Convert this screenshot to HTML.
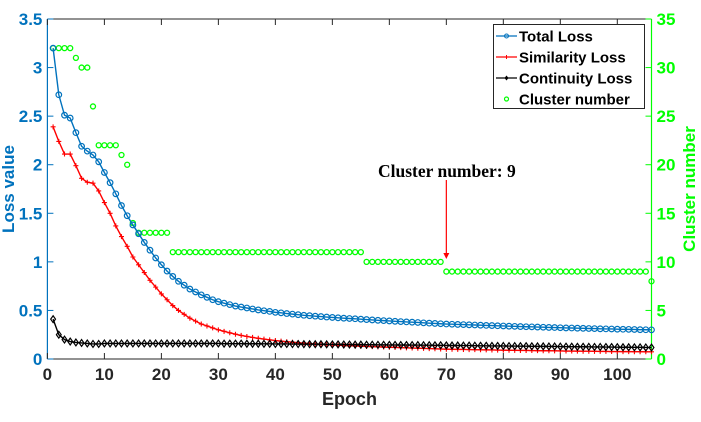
<!DOCTYPE html>
<html><head><meta charset="utf-8"><style>
body{margin:0;background:#fff;}
svg{display:block;font-family:"Liberation Sans",Arial,sans-serif;}
</style></head><body>
<svg id="chart" width="701" height="422" viewBox="0 0 701 422">
<g id="layer"></g>
</svg>
<script>
const epochs=[];for(let i=1;i<=106;i++)epochs.push(i);
const totalLoss=[3.20,2.72,2.51,2.48,2.33,2.19,2.14,2.10,2.03,1.92,1.815,1.70,1.58,1.475,1.38,1.29,1.20,1.12,1.04,0.97,0.905,0.85,0.80,0.76,0.72,0.69,0.66,0.635,0.61,0.59,0.575,0.56,0.545,0.535,0.525,0.515,0.505,0.497,0.49,0.48,0.475,0.468,0.462,0.456,0.45,0.446,0.441,0.437,0.432,0.428,0.424,0.42,0.417,0.414,0.41,0.406,0.402,0.398,0.395,0.392,0.388,0.385,0.382,0.379,0.376,0.372,0.369,0.366,0.363,0.36,0.358,0.356,0.354,0.352,0.35,0.348,0.346,0.344,0.342,0.34,0.338,0.336,0.334,0.332,0.331,0.329,0.327,0.325,0.324,0.322,0.32,0.319,0.317,0.316,0.314,0.313,0.311,0.31,0.309,0.307,0.306,0.305,0.304,0.302,0.301,0.30];
const simLoss=[2.39,2.24,2.11,2.11,1.99,1.86,1.82,1.81,1.73,1.61,1.50,1.37,1.26,1.16,1.05,0.97,0.89,0.81,0.74,0.67,0.61,0.55,0.50,0.46,0.42,0.39,0.36,0.34,0.32,0.30,0.285,0.27,0.255,0.243,0.232,0.222,0.213,0.205,0.197,0.19,0.184,0.178,0.173,0.168,0.163,0.159,0.155,0.151,0.148,0.145,0.142,0.139,0.136,0.134,0.131,0.129,0.127,0.125,0.123,0.121,0.119,0.117,0.115,0.113,0.111,0.109,0.107,0.105,0.103,0.101,0.100,0.099,0.098,0.097,0.096,0.095,0.094,0.093,0.092,0.091,0.090,0.089,0.088,0.088,0.087,0.086,0.085,0.085,0.084,0.083,0.082,0.082,0.081,0.080,0.080,0.079,0.078,0.078,0.077,0.077,0.076,0.076,0.075,0.075,0.074,0.074];
const contLoss=[0.41,0.25,0.20,0.18,0.17,0.165,0.16,0.155,0.155,0.16,0.16,0.16,0.16,0.16,0.16,0.16,0.16,0.16,0.16,0.16,0.16,0.16,0.16,0.16,0.16,0.16,0.16,0.16,0.16,0.16,0.158,0.158,0.158,0.158,0.157,0.157,0.157,0.156,0.156,0.155,0.155,0.155,0.154,0.154,0.153,0.153,0.152,0.152,0.151,0.15,0.15,0.149,0.149,0.148,0.148,0.147,0.147,0.146,0.146,0.145,0.145,0.144,0.144,0.143,0.143,0.142,0.142,0.141,0.141,0.14,0.139,0.139,0.138,0.138,0.137,0.136,0.136,0.135,0.135,0.134,0.133,0.133,0.132,0.132,0.131,0.13,0.13,0.129,0.129,0.128,0.127,0.127,0.126,0.126,0.125,0.124,0.124,0.123,0.123,0.122,0.121,0.121,0.12,0.12,0.119,0.118];
const clusterNum=[32,32,32,32,31,30,30,26,22,22,22,22,21,20,14,13,13,13,13,13,13,11,11,11,11,11,11,11,11,11,11,11,11,11,11,11,11,11,11,11,11,11,11,11,11,11,11,11,11,11,11,11,11,11,11,10,10,10,10,10,10,10,10,10,10,10,10,10,10,9,9,9,9,9,9,9,9,9,9,9,9,9,9,9,9,9,9,9,9,9,9,9,9,9,9,9,9,9,9,9,9,9,9,9,9,8];
const xTicks=[0,10,20,30,40,50,60,70,80,90,100];
const yLeftTicks=[0,0.5,1,1.5,2,2.5,3,3.5];
const yLeftLabels=["0","0.5","1","1.5","2","2.5","3","3.5"];
const yRightTicks=[0,5,10,15,20,25,30,35];
const annotEpoch=70, annotValue=9;

const NS="http://www.w3.org/2000/svg";
const L=47.4,R=651.5,T=19,B=359;
const xs=v=>L+v/106*(R-L);
const yl=v=>B-v/3.5*(B-T);
const yr=v=>B-v/35*(B-T);
const g=document.getElementById('layer');
function mk(tag,attrs,parent){const e=document.createElementNS(NS,tag);for(const k in attrs)e.setAttribute(k,attrs[k]);(parent||g).appendChild(e);return e;}

const axes=mk('g',{});


mk('line',{x1:L,y1:T,x2:R,y2:T,stroke:'#262626','stroke-width':1},axes);
mk('line',{x1:L,y1:B,x2:R,y2:B,stroke:'#262626','stroke-width':1},axes);
mk('line',{x1:L,y1:T,x2:L,y2:B,stroke:'#0072BD','stroke-width':1.2},axes);
mk('line',{x1:R,y1:T,x2:R,y2:B,stroke:'#00FF00','stroke-width':1.2},axes);
xTicks.forEach(t=>{
  const x=xs(t);
  mk('line',{x1:x,y1:B,x2:x,y2:B-6,stroke:'#262626'},axes);
  mk('line',{x1:x,y1:T,x2:x,y2:T+6,stroke:'#262626'},axes);
  const tx=mk('text',{x:x,y:B+21,'text-anchor':'middle','font-size':17,'font-weight':'bold',fill:'#262626'},axes);
  tx.textContent=t;
  
  
});
yLeftTicks.forEach((t,i)=>{
  const y=yl(t);
  mk('line',{x1:L,y1:y,x2:L+6,y2:y,stroke:'#0072BD'},axes);
  const tx=mk('text',{x:L-5,y:y+6,'text-anchor':'end','font-size':17,'font-weight':'bold',fill:'#0072BD'},axes);
  tx.textContent=yLeftLabels[i];
  
  
});
yRightTicks.forEach(t=>{
  const y=yr(t);
  mk('line',{x1:R,y1:y,x2:R-6,y2:y,stroke:'#00FF00'},axes);
  const tx=mk('text',{x:R+5,y:y+6,'font-size':17,'font-weight':'bold',fill:'#00FF00'},axes);
  tx.textContent=t;
  
  
});
let t1=mk('text',{x:0,y:0,transform:'translate(14,189) rotate(-90)','text-anchor':'middle','font-size':17,'font-weight':'bold',fill:'#0072BD'});
t1.textContent='Loss value';


let t2=mk('text',{x:0,y:0,transform:'translate(695,189) rotate(-90)','text-anchor':'middle','font-size':17,'font-weight':'bold',fill:'#00FF00'});
t2.textContent='Cluster number';


let t3=mk('text',{x:(L+R)/2,y:405,'text-anchor':'middle','font-size':18,'font-weight':'bold',fill:'#262626'});
t3.textContent='Epoch';



const cg=mk('g',{});


clusterNum.forEach((v,i)=>{
  const c=mk('circle',{cx:xs(epochs[i]),cy:yr(v),r:2.5,fill:'none',stroke:'#00FF00','stroke-width':1.3},cg);
  
  
});

function series(data,color,name,marker){
  const sg=mk('g',{});
  
  
  const pts=data.map((v,i)=>xs(epochs[i]).toFixed(2)+','+yl(v).toFixed(2)).join(' ');
  mk('polyline',{points:pts,fill:'none',stroke:color,'stroke-width':1.4},sg);
  data.forEach((v,i)=>{
    const x=xs(epochs[i]),y=yl(v);let m;
    if(marker==='o')m=mk('circle',{cx:x,cy:y,r:2.8,fill:'none',stroke:color,'stroke-width':1.2},sg);
    else if(marker==='+')m=mk('path',{d:`M${x-2.5},${y}H${x+2.5}M${x},${y-2.5}V${y+2.5}`,stroke:color,'stroke-width':1.1},sg);
    else m=mk('path',{d:`M${x},${y-3.4}L${x+2.4},${y}L${x},${y+3.4}L${x-2.4},${y}Z`,fill:'none',stroke:color,'stroke-width':1.2},sg);
    
    
  });
}
series(simLoss,'#FF0000','similarity-loss-series','+');
series(contLoss,'#000000','continuity-loss-series','d');
series(totalLoss,'#0072BD','total-loss-series','o');

const ag=mk('g',{});


const ax=xs(annotEpoch),ay=yr(annotValue+1.3);
let at=mk('text',{x:378,y:177,'font-family':'"Liberation Serif",serif','font-size':17.5,'font-weight':'bold',fill:'#000'},ag);
at.textContent='Cluster number: 9';
mk('line',{x1:ax,y1:180,x2:ax,y2:ay-4,stroke:'#FF0000','stroke-width':1.2},ag);
mk('path',{d:`M${ax-3},${ay-6}L${ax+3},${ay-6}L${ax},${ay}Z`,fill:'#FF0000'},ag);

const lg=mk('g',{});


mk('rect',{x:493.5,y:24.5,width:151,height:84,fill:'#fff',stroke:'#262626','stroke-width':1},lg);
const entries=[['Total Loss','#0072BD','o'],['Similarity Loss','#FF0000','+'],['Continuity Loss','#000','d'],['Cluster number','#00FF00','c']];
entries.forEach((e,i)=>{
  const y=36+i*21, e1=mk('g',{},lg);
  
  
  if(e[2]!=='c')mk('line',{x1:496,y1:y,x2:517,y2:y,stroke:e[1],'stroke-width':1.2},e1);
  if(e[2]==='o')mk('circle',{cx:506.5,cy:y,r:2,fill:'none',stroke:e[1]},e1);
  if(e[2]==='+')mk('path',{d:`M504.5,${y}h4M506.5,${y-2}v4`,stroke:e[1]},e1);
  if(e[2]==='d')mk('path',{d:`M506.5,${y-2.5}l2,2.5l-2,2.5l-2,-2.5z`,fill:'#000'},e1);
  if(e[2]==='c')mk('circle',{cx:506.5,cy:y,r:2,fill:'none',stroke:e[1],'stroke-width':1.2},e1);
  const tx=mk('text',{x:519,y:y+5.5,'font-size':15,'font-weight':'bold',fill:'#000'},e1);
  tx.textContent=e[0];
});
</script>
</body></html>
